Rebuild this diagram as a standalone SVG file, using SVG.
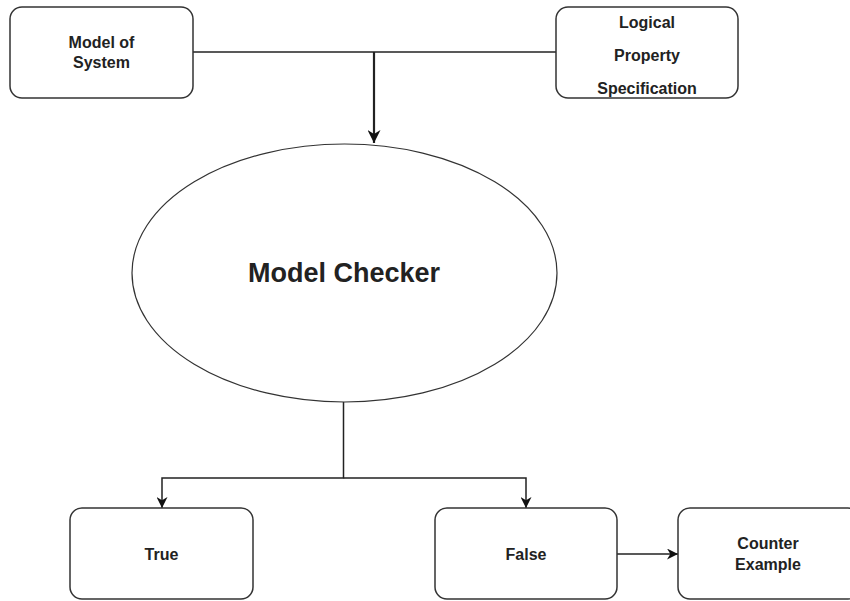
<svg xmlns="http://www.w3.org/2000/svg" width="850" height="601" viewBox="0 0 850 601">
<defs>
<style>
.box{fill:#fff;stroke:#333;stroke-width:1.5}
.lbl{font-family:"Liberation Sans",Arial,sans-serif;font-weight:bold;font-size:16px;fill:#222;text-anchor:middle}
.big{font-size:27px}
.conn{fill:none;stroke:#222;stroke-width:1.5}
.thick{stroke-width:2.2}
</style>
<marker id="arr" viewBox="0 0 10 10" refX="10" refY="5" markerWidth="11" markerHeight="11" markerUnits="userSpaceOnUse" orient="auto">
<path d="M0,0 L10,5 L0,10 L3,5 z" fill="#111"/>
</marker>
<marker id="arrBig" viewBox="0 0 10 10" refX="10" refY="5" markerWidth="13" markerHeight="13" markerUnits="userSpaceOnUse" orient="auto">
<path d="M0,0 L10,5 L0,10 L3,5 z" fill="#111"/>
</marker>
</defs>
<rect width="850" height="601" fill="#fff"/>
<g id="connectors">
<path class="conn" d="M193,52 H556"/>
<path class="conn thick" d="M374,52 V143" marker-end="url(#arrBig)"/>
<path class="conn" d="M343.5,402 V478 H162 V508" marker-end="url(#arr)"/>
<path class="conn" d="M343.5,478 H526 V508" marker-end="url(#arr)"/>
<path class="conn" d="M617,554 H678" marker-end="url(#arr)"/>
</g>
<g id="model-of-system">
<rect class="box" x="10" y="7" width="183" height="91" rx="12"/>
<text class="lbl" x="101.5" y="48">Model of</text>
<text class="lbl" x="101.5" y="68">System</text>
</g>
<g id="logical-property">
<rect class="box" x="556" y="7" width="182" height="91" rx="12"/>
<text class="lbl" x="647" y="28">Logical</text>
<text class="lbl" x="647" y="61">Property</text>
<text class="lbl" x="647" y="94">Specification</text>
</g>
<g id="model-checker">
<ellipse class="box" cx="344.5" cy="273" rx="212.5" ry="129" style="stroke-width:1.2"/>
<text class="lbl big" x="344" y="282">Model Checker</text>
</g>
<g id="true">
<rect class="box" x="70" y="508" width="183" height="91" rx="12"/>
<text class="lbl" x="161.5" y="560">True</text>
</g>
<g id="false">
<rect class="box" x="435" y="508" width="182" height="91" rx="12"/>
<text class="lbl" x="526" y="560">False</text>
</g>
<g id="counter-example">
<rect class="box" x="678" y="508" width="182" height="91" rx="12"/>
<text class="lbl" x="768" y="549">Counter</text>
<text class="lbl" x="768" y="570">Example</text>
</g>
</svg>
